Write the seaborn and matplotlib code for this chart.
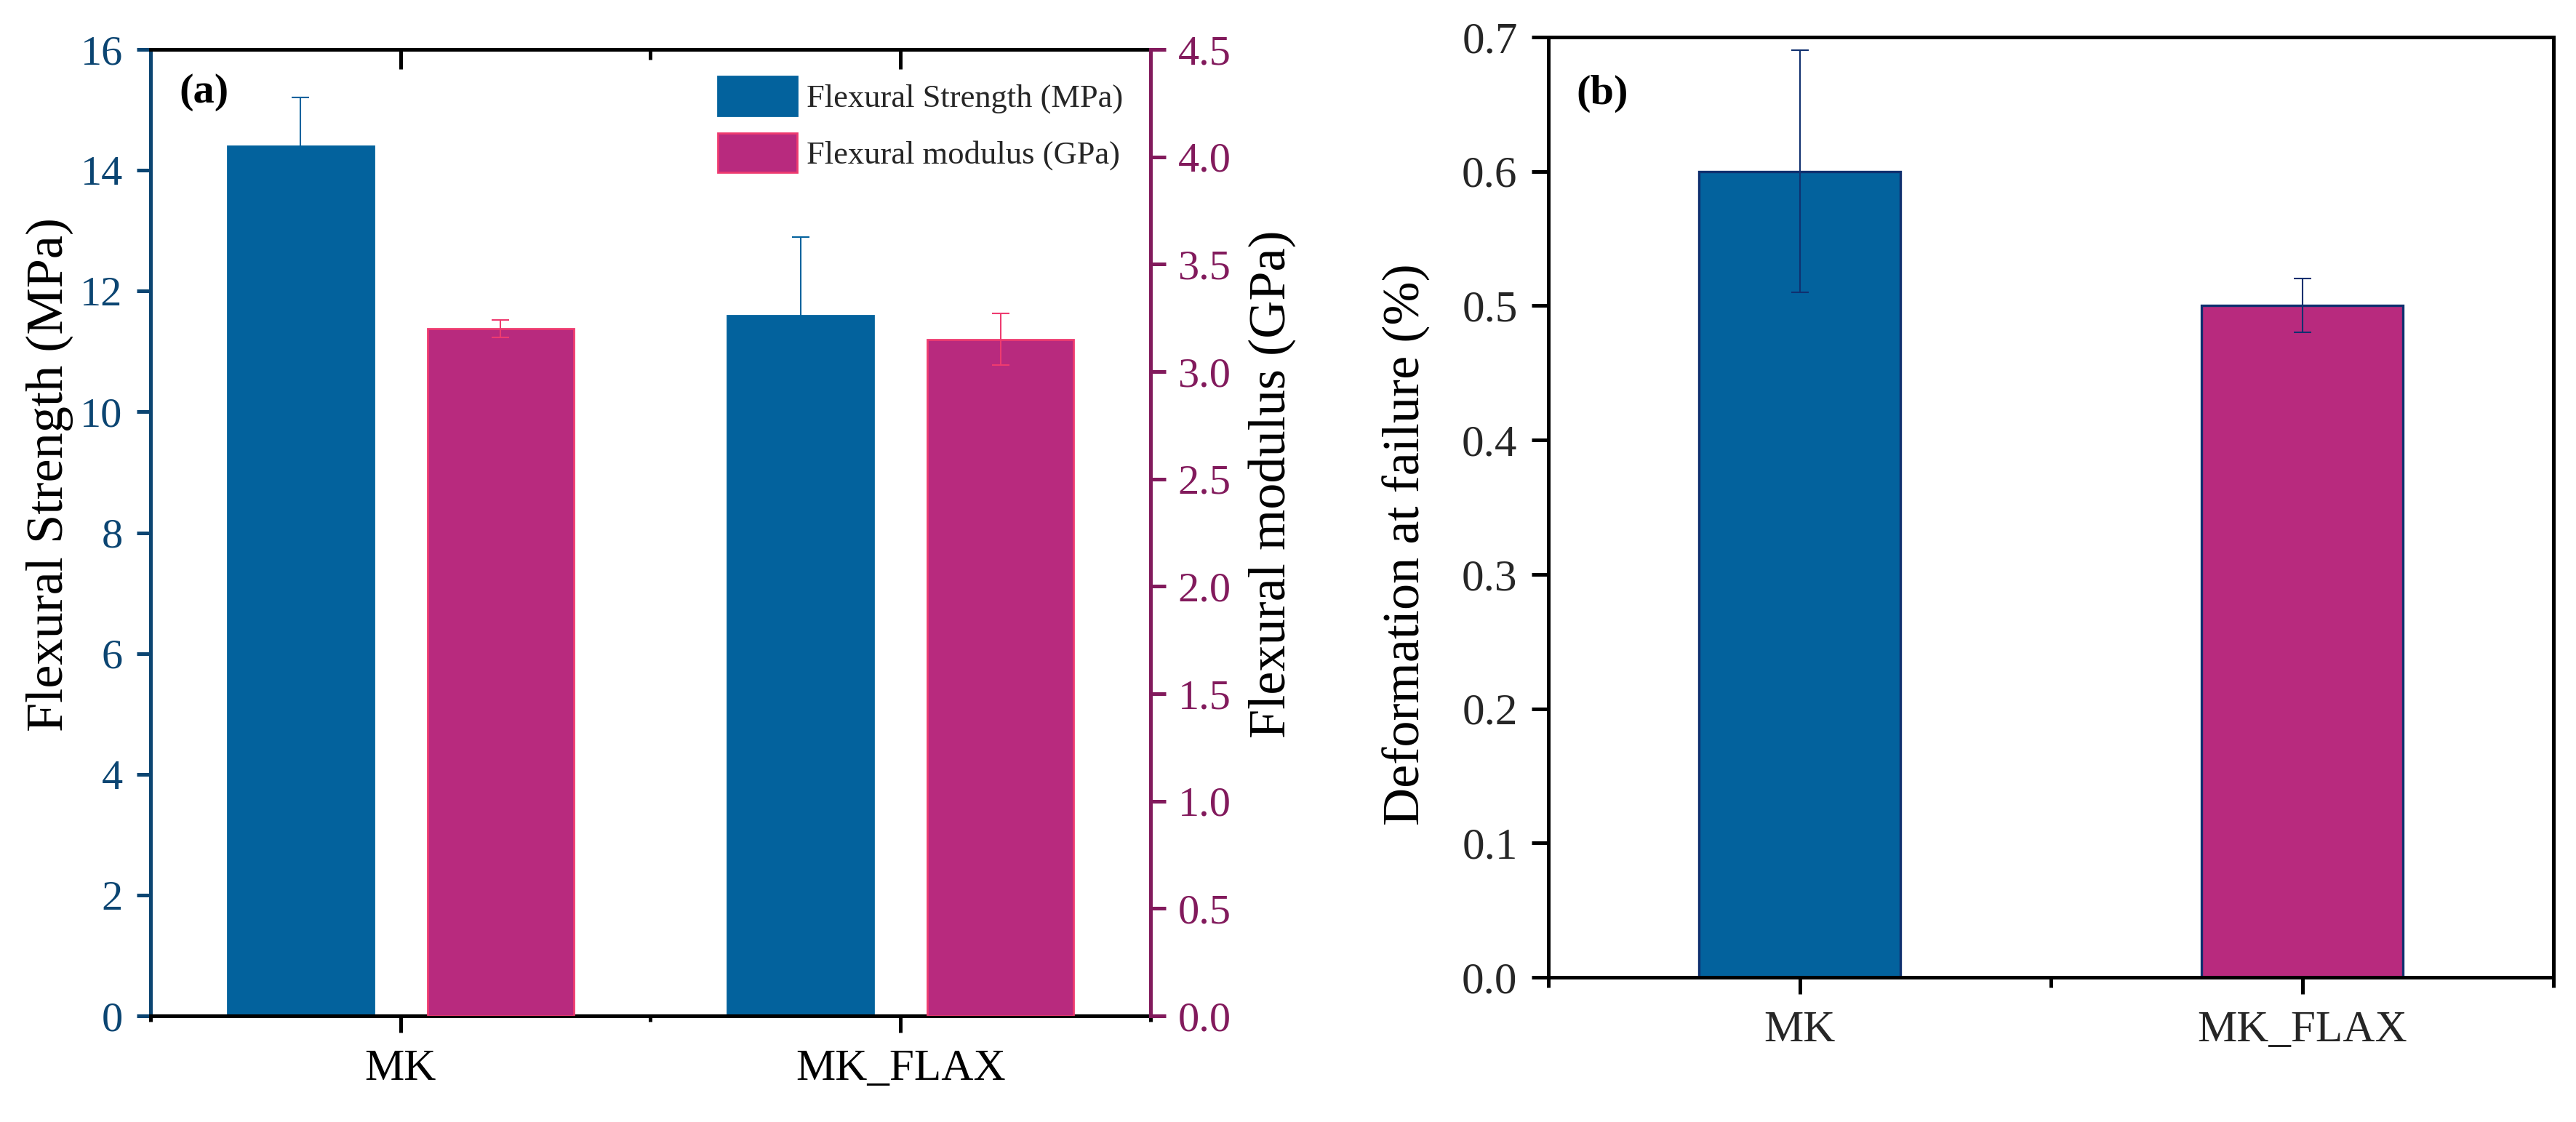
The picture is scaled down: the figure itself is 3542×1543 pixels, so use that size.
import numpy as np
import pandas as pd
import matplotlib
matplotlib.use("Agg")
import matplotlib.pyplot as plt
import seaborn as sns
from matplotlib.patches import Patch
from matplotlib.ticker import FixedLocator

# ---------------- data ----------------
samples = ["MK", "MK_FLAX"]
series_names = ["Flexural Strength (MPa)", "Flexural modulus (GPa)"]
strength = [14.4, 11.6]
strength_err = [0.8, 1.3]
modulus = [3.20, 3.15]
modulus_err = [0.04, 0.12]
deformation = [0.60, 0.50]
deformation_err = [0.09, 0.02]

left_ticks = [0, 2, 4, 6, 8, 10, 12, 14, 16]
right_ticks = [0.0, 0.5, 1.0, 1.5, 2.0, 2.5, 3.0, 3.5, 4.0, 4.5]
b_ticks = [0.0, 0.1, 0.2, 0.3, 0.4, 0.5, 0.6, 0.7]

# ---------------- style ----------------
BLUE = "#03629D"
PINK = "#B82A7E"
PINK_EDGE = "#EE3B70"
NAVY = "#10306F"
LEFT_AX = "#0B4572"
RIGHT_AX = "#821A5C"

sns.set_theme(style="ticks")
plt.rcParams["font.family"] = ["Liberation Serif", "DejaVu Serif"]

fig = plt.figure(figsize=(3542 / 200, 1543 / 200), dpi=200)
ax1 = fig.add_axes([0.05844, 0.0946, 0.3882, 0.8613])
axb = fig.add_axes([0.6011, 0.129, 0.3902, 0.838])

palette = dict(zip(series_names, [BLUE, PINK]))

# ---------------- panel (a) ----------------
df_s = pd.DataFrame({"Sample": samples, "Series": series_names[0], "Value": strength})
df_m = pd.DataFrame({"Sample": samples, "Series": series_names[1], "Value": modulus})

sns.barplot(data=df_s, x="Sample", y="Value", hue="Series", hue_order=series_names,
            order=samples, palette=palette, width=0.8, gap=0.27, dodge=True,
            saturation=1, errorbar=None, edgecolor=BLUE, linewidth=1.0,
            legend=False, ax=ax1)
ax2 = ax1.twinx()
sns.barplot(data=df_m, x="Sample", y="Value", hue="Series", hue_order=series_names,
            order=samples, palette=palette, width=0.8, gap=0.27, dodge=True,
            saturation=1, errorbar=None, edgecolor=PINK_EDGE, linewidth=1.0,
            legend=False, ax=ax2)


def bar_centers(ax):
    patches = sorted(ax.patches, key=lambda p: p.get_x())
    return [p.get_x() + p.get_width() / 2 for p in patches]


ax1.errorbar(bar_centers(ax1), strength, yerr=strength_err, fmt="none", ecolor=BLUE,
             elinewidth=0.75, capsize=4.2, capthick=0.75, zorder=3)
ax2.errorbar(bar_centers(ax2), modulus, yerr=modulus_err, fmt="none", ecolor=PINK_EDGE,
             elinewidth=0.75, capsize=4.2, capthick=0.75, zorder=3)

ax1.set_xlim(-0.5, 1.5)
ax1.set_ylim(0, 16)
ax1.set_yticks(left_ticks)
ax1.set_yticklabels([str(t) for t in left_ticks])
ax2.set_ylim(0, 4.5)
ax2.set_yticks(right_ticks)
ax2.set_yticklabels([f"{t:.1f}" for t in right_ticks])

ax1.xaxis.set_minor_locator(FixedLocator([-0.5, 0.5, 1.5]))
ax1.tick_params(axis="x", which="major", direction="out", length=8.3, width=1.8,
                color="black", labelsize=22, pad=8, labelcolor="black")
ax1.tick_params(axis="x", which="minor", direction="out", length=2.8, width=1.8, color="black")
ax1.tick_params(axis="y", which="major", direction="out", length=6.8, width=1.8,
                color=LEFT_AX, labelcolor=LEFT_AX, labelsize=21, pad=7)
ax2.tick_params(axis="y", which="major", direction="out", length=7.5, width=1.8,
                color=RIGHT_AX, labelcolor=RIGHT_AX, labelsize=21, pad=6)

secax = ax1.secondary_xaxis("top")
secax.set_xticks([0, 1])
secax.set_xticklabels([])
secax.xaxis.set_minor_locator(FixedLocator([-0.5, 0.5, 1.5]))
secax.tick_params(which="major", direction="in", length=9.7, width=1.8, color="black")
secax.tick_params(which="minor", direction="in", length=5, width=1.8, color="black")
secax.spines["top"].set_visible(False)

for s in ["top", "bottom"]:
    ax1.spines[s].set_color("black")
    ax1.spines[s].set_linewidth(1.8)
ax1.spines["left"].set_color(LEFT_AX)
ax1.spines["left"].set_linewidth(1.8)
ax1.spines["right"].set_visible(False)
for s in ["left", "top", "bottom"]:
    ax2.spines[s].set_visible(False)
ax2.spines["right"].set_color(RIGHT_AX)
ax2.spines["right"].set_linewidth(1.8)

ax1.set_xlabel("")
ax1.set_ylabel(series_names[0], fontsize=26, color="black")
ax1.yaxis.set_label_coords(-0.077, 0.56)
ax2.set_ylabel(series_names[1], fontsize=26, color="black")
ax2.yaxis.set_label_coords(1.0975, 0.55)

handles = [Patch(facecolor=BLUE, edgecolor=BLUE, linewidth=1.0),
           Patch(facecolor=PINK, edgecolor=PINK_EDGE, linewidth=1.0)]
ax2.legend(handles, series_names, loc="upper left", bbox_to_anchor=(0.567, 0.972),
           bbox_transform=ax1.transAxes, frameon=False, fontsize=16,
           handlelength=2.45, handleheight=1.48, handletextpad=0.3,
           labelspacing=0.55, borderpad=0, borderaxespad=0)

ax1.text(0.029, 0.975, "(a)", transform=ax1.transAxes, fontsize=21,
         fontweight="bold", va="top", ha="left", color="black")

# ---------------- panel (b) ----------------
df_b = pd.DataFrame({"Sample": samples, "Deformation": deformation})
sns.barplot(data=df_b, x="Sample", y="Deformation", hue="Sample", order=samples,
            palette=[BLUE, PINK], width=0.4, saturation=1, edgecolor=NAVY,
            linewidth=1.2, errorbar=None, legend=False, ax=axb)
axb.errorbar(bar_centers(axb), deformation, yerr=deformation_err, fmt="none",
             ecolor=NAVY, elinewidth=0.75, capsize=4.2, capthick=0.75, zorder=3)

axb.set_xlim(-0.5, 1.5)
axb.set_ylim(0, 0.7)
axb.set_yticks(b_ticks)
axb.set_yticklabels([f"{t:.1f}" for t in b_ticks])
axb.xaxis.set_minor_locator(FixedLocator([-0.5, 0.5, 1.5]))
axb.tick_params(axis="x", which="major", direction="out", length=8.4, width=1.8,
                color="black", labelsize=22, pad=8)
axb.tick_params(axis="x", which="minor", direction="out", length=5, width=1.8, color="black")
axb.tick_params(axis="y", which="major", direction="out", length=8.3, width=1.8,
                color="black", labelsize=22, pad=7)
for s in axb.spines.values():
    s.set_visible(True)
    s.set_color("black")
    s.set_linewidth(1.8)

axb.set_xlabel("")
axb.set_ylabel("Deformation at failure (%)", fontsize=26, color="black")
axb.yaxis.set_label_coords(-0.117, 0.46)
axb.text(0.0275, 0.96, "(b)", transform=axb.transAxes, fontsize=21,
         fontweight="bold", va="top", ha="left", color="black")

fig.savefig("out.png", dpi=200, facecolor="white")
